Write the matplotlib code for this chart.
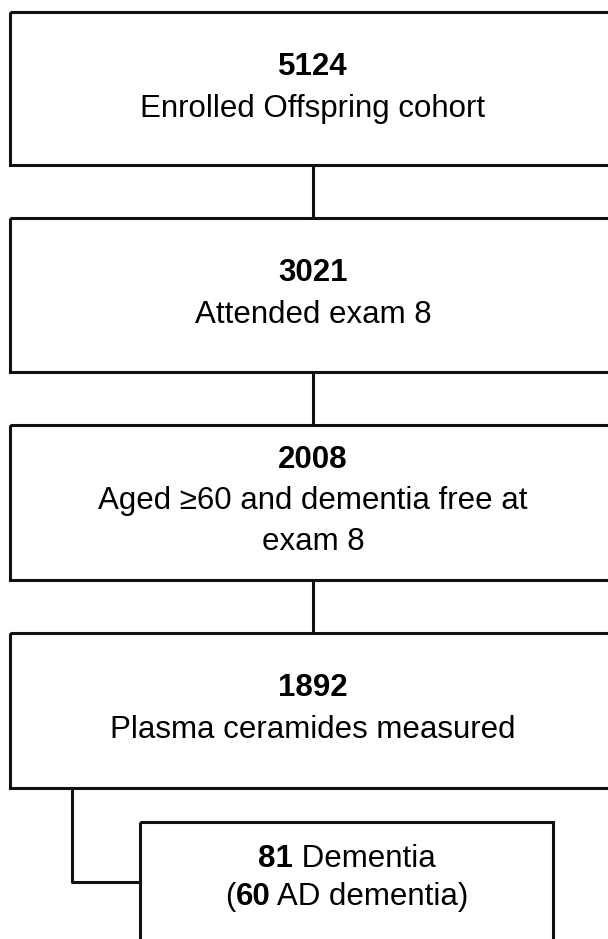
import matplotlib
matplotlib.use('Agg')
import matplotlib.pyplot as plt
from matplotlib.patches import Rectangle

plt.rcParams['font.family'] = ['Liberation Sans', 'DejaVu Sans']

# flow steps: count and description lines
counts = ['5124', '3021', '2008', '1892']
descriptions = [
    ['Enrolled Offspring cohort'],
    ['Attended exam 8'],
    ['Aged \u226560 and dementia free at', 'exam 8'],
    ['Plasma ceramides measured'],
]
outcome_lines = [
    [('81', True), (' Dementia', False)],
    [('(', False), ('60', True), (' AD dementia)', False)],
]

W, H = 608, 939
LW = 2.2
FS = 22.5
COL = '#111111'

# box geometry in pixels (top, bottom), y grows downward
box_tops = [12, 218, 425, 633]
box_bottoms = [165, 372, 580, 788]
first_baseline = [63, 63, 43, 63]
box_left = 10
box_right = 625
cx = 313
step = 42


def rich_line(ax, fig, x, y, parts):
    renderer = fig.canvas.get_renderer()
    texts = []
    widths = []
    for s, bold in parts:
        t = ax.text(0, y, s, fontsize=FS, fontweight='bold' if bold else 'normal',
                    ha='left', va='baseline')
        bb = t.get_window_extent(renderer=renderer)
        texts.append(t)
        widths.append(bb.width)
    total = sum(widths)
    xpos = x - total / 2
    for t, w in zip(texts, widths):
        t.set_x(xpos)
        xpos += w


def main():
    fig = plt.figure(figsize=(W / 100, H / 100), dpi=100)
    ax = fig.add_axes([0, 0, 1, 1])
    ax.set_xlim(0, W)
    ax.set_ylim(H, 0)
    ax.axis('off')

    for i, (n, desc) in enumerate(zip(counts, descriptions)):
        top, bot = box_tops[i], box_bottoms[i]
        ax.add_patch(Rectangle((box_left, top), box_right - box_left, bot - top,
                               fill=False, lw=LW, ec=COL))
        lines = [(n, True)] + [(d, False) for d in desc]
        gap = step if len(lines) < 3 else 41
        for j, (s, bold) in enumerate(lines):
            ax.text(cx, top + first_baseline[i] + j * gap, s, fontsize=FS,
                    fontweight='bold' if bold else 'normal',
                    ha='center', va='baseline')
        if i < len(counts) - 1:
            ax.plot([cx, cx], [bot, box_tops[i + 1]], color=COL, lw=LW)

    # branch to outcome box
    ax.plot([72, 72, 140], [box_bottoms[-1], 882, 882], color=COL, lw=LW)
    ax.add_patch(Rectangle((140, 822), 413, 140, fill=False, lw=LW, ec=COL))
    rich_line(ax, fig, 347, 867, outcome_lines[0])
    rich_line(ax, fig, 347, 905, outcome_lines[1])

    fig.savefig('out.png', dpi=100)


if __name__ == '__main__':
    main()
